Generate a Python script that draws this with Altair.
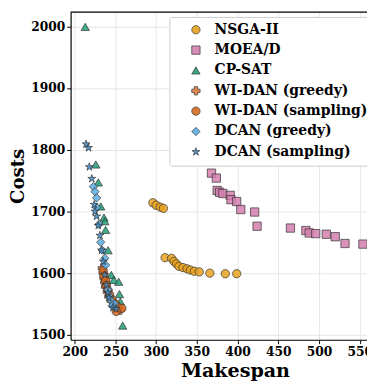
import altair as alt
import pandas as pd

methods = ["NSGA-II", "MOEA/D", "CP-SAT", "WI-DAN (greedy)", "WI-DAN (sampling)", "DCAN (greedy)", "DCAN (sampling)"]
colors = ["#E8A21E", "#D47FAF", "#1E9E78", "#E07B39", "#D9691C", "#5AAEE3", "#3E88C4"]
STAR = "M0,-1L0.2245,-0.309L0.9511,-0.309L0.3633,0.118L0.5878,0.809L0,0.382L-0.5878,0.809L-0.3633,0.118L-0.9511,-0.309L-0.2245,-0.309Z"
shapes = ["circle", "square", "triangle-up", "cross", "circle", "diamond", STAR]
sizes = [72, 72, 72, 72, 72, 120, 85]

nsga_x = [296, 300, 305, 309, 311, 319, 322, 325, 328, 333, 338, 342, 347, 353, 366, 385, 399]
nsga_y = [1714, 1710, 1707, 1705, 1625, 1624, 1619, 1615, 1611, 1609, 1607, 1605, 1603, 1602, 1600, 1599, 1599]

moead_x = [368, 374, 375, 378, 382, 391, 392, 399, 404, 421, 424, 465, 484, 488, 496, 509, 520, 532, 554]
moead_y = [1762, 1754, 1734, 1731, 1729, 1726, 1719, 1716, 1703, 1699, 1676, 1673, 1669, 1665, 1664, 1663, 1659, 1648, 1647]

cpsat_x = [213, 226, 229, 232, 236, 237, 238, 241, 245, 248, 254, 255, 256, 259]
cpsat_y = [1999, 1776, 1747, 1708, 1690, 1684, 1670, 1637, 1597, 1589, 1586, 1566, 1554, 1515]

widan_g_x = [234, 235, 236, 237, 238, 240, 242, 245, 248, 252, 256]
widan_g_y = [1608, 1600, 1592, 1585, 1578, 1570, 1562, 1555, 1548, 1544, 1540]

widan_s_x = [235, 236, 238, 239, 241, 243, 246, 250, 253, 258, 251]
widan_s_y = [1604, 1595, 1588, 1580, 1572, 1565, 1557, 1550, 1545, 1543, 1538]

dcan_g_x = [223, 225, 227, 227, 230, 232, 234, 237, 238, 241, 243, 245, 249, 246]
dcan_g_y = [1740, 1732, 1722, 1706, 1679, 1650, 1637, 1624, 1613, 1573, 1562, 1555, 1550, 1547]

dcan_s_x = [214, 217, 218, 221, 224, 225, 227, 229, 231, 233, 235, 237, 239, 241, 242, 247, 251]
dcan_s_y = [1809, 1803, 1772, 1753, 1711, 1700, 1692, 1677, 1661, 1637, 1619, 1597, 1581, 1568, 1560, 1544, 1542]

series = [
    (nsga_x, nsga_y), (moead_x, moead_y), (cpsat_x, cpsat_y),
    (widan_g_x, widan_g_y), (widan_s_x, widan_s_y),
    (dcan_g_x, dcan_g_y), (dcan_s_x, dcan_s_y),
]

rows = []
for i, (m, (xs, ys)) in enumerate(zip(methods, series)):
    for x, y in zip(xs, ys):
        rows.append({"Method": m, "Makespan": x, "Costs": y, "order": i})
df = pd.DataFrame(rows)

FONT = "DejaVu Serif"

points = alt.Chart(df).mark_point(
    filled=True, fillOpacity=0.85, stroke="#333333", strokeWidth=0.8, strokeOpacity=0.9
).encode(
    x=alt.X("Makespan:Q", scale=alt.Scale(domain=[195, 559], nice=False, zero=False),
            axis=alt.Axis(values=[200, 250, 300, 350, 400, 450, 500, 550], title="Makespan",
                          format="d", titleX=168, titleAlign="center")),
    y=alt.Y("Costs:Q", scale=alt.Scale(domain=[1492, 2023], nice=False, zero=False),
            axis=alt.Axis(values=[1500, 1600, 1700, 1800, 1900, 2000], title="Costs", format="d")),
    color=alt.Color("Method:N", scale=alt.Scale(domain=methods, range=colors),
                    legend=alt.Legend(title=None, orient="none", legendX=101, legendY=5,
                                      symbolStrokeColor="#333333", symbolStrokeWidth=0.8,
                                      symbolOpacity=0.9)),
    shape=alt.Shape("Method:N", scale=alt.Scale(domain=methods, range=shapes)),
    size=alt.Size("Method:N", scale=alt.Scale(domain=methods, range=sizes)),
    order=alt.Order("order:Q"),
)

topline = alt.Chart(pd.DataFrame({"a": [0]})).mark_rule(color="black", strokeWidth=1.2).encode(
    x=alt.value(0), x2=alt.value(303), y=alt.value(0)
)

chart = alt.layer(points, topline).properties(
    width=303, height=335,
    autosize=alt.AutoSizeParams(type="none"),
    padding={"left": 64, "top": 0, "right": 0, "bottom": 38},
).configure_view(stroke=None).configure_axis(
    labelFont=FONT, labelFontWeight="bold", labelFontSize=12.5, labelColor="black",
    titleFont=FONT, titleFontWeight="bold", titleFontSize=19.5, titleColor="black",
    domainColor="black", domainWidth=1.2, tickColor="black", tickSize=4, tickWidth=1,
    gridColor="#e6e6e6", gridWidth=1, labelPadding=2,
).configure_axisY(titlePadding=3, titleFontSize=18.5).configure_axisX(titlePadding=4).configure_legend(
    labelFont=FONT, labelFontWeight="bold", labelFontSize=14.2, labelColor="black",
    fillColor="white", strokeColor="#cccccc", padding=6, cornerRadius=2,
    rowPadding=5.8, symbolOffset=14, labelOffset=12, labelLimit=300,
)

chart.save("out.html", embed_options={"renderer": "svg", "actions": False})
